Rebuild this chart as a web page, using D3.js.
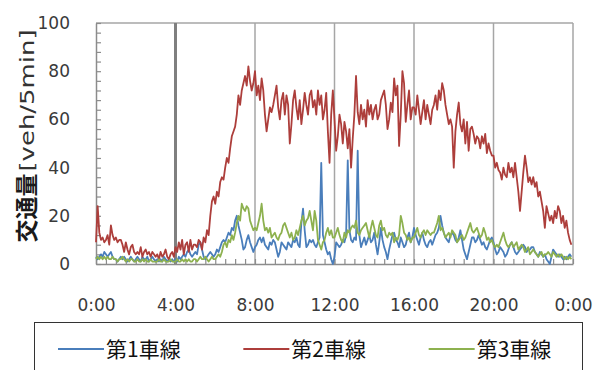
<!DOCTYPE html>
<html>
<head>
<meta charset="utf-8">
<script src="https://cdn.jsdelivr.net/npm/d3@7"></script>
<style>
  body { margin: 0; background: #fff; }
  svg { display: block; }
</style>
</head>
<body>
<div id="chart"></div>
<script>
// traffic volume per 5 min, one row = one hour (12 values)
var lane1 = [
  3,2,3,4,3,5,4,3,4,5,3,2,
  2,1,2,3,2,3,2,1,2,3,2,1,
  2,3,2,1,3,2,2,3,1,2,3,2,
  1,2,1,2,1,3,2,1,2,1,2,1,
  2,1,3,2,3,4,3,5,6,4,3,4,
  5,4,8,9,6,3,2,3,4,5,4,3,
  4,6,5,7,9,10,9,11,13,12,15,14,
  18,20,16,13,10,6,7,10,12,9,7,5,
  7,8,10,11,9,11,8,7,6,9,8,10,
  9,6,3,5,9,8,7,6,9,8,7,10,
  9,11,8,7,17,23,14,7,8,10,9,10,
  8,7,9,11,42,12,9,6,4,5,2,0,
  3,9,8,7,8,10,9,12,43,14,10,9,
  11,10,47,12,7,9,11,8,10,12,9,10,
  13,8,4,9,15,10,7,5,2,6,9,12,
  13,10,9,7,11,9,7,8,11,13,9,11,
  15,12,10,8,11,13,10,8,7,9,10,8,
  10,12,13,15,20,16,13,11,10,9,12,13,
  12,10,9,11,14,10,6,4,2,5,8,11,
  11,9,10,12,10,8,9,7,6,8,10,11,
  9,6,4,5,7,6,5,3,4,6,8,9,
  7,5,4,5,6,7,8,7,5,6,6,7,
  7,5,4,3,5,4,3,4,2,1,0,3,
  6,5,4,3,4,3,2,3,2,3,4,3
];
var lane2 = [
  9,24,13,10,11,9,10,12,8,16,12,10,
  11,9,10,10,8,5,9,6,4,7,8,5,
  4,5,4,7,3,5,6,4,5,3,5,4,
  3,4,2,5,3,4,6,3,2,4,5,3,
  7,5,9,6,10,4,8,9,5,10,6,8,
  8,7,10,9,6,11,9,14,12,20,26,28,
  25,30,28,34,36,35,40,44,42,48,53,55,
  57,62,70,66,72,75,78,74,82,76,72,75,
  80,70,74,68,77,72,62,55,60,65,63,66,
  70,74,65,60,68,71,62,70,66,50,58,68,
  72,65,60,68,58,64,71,66,62,70,72,65,
  68,62,72,66,70,60,64,71,55,42,62,72,
  60,47,53,62,58,50,59,55,48,56,40,52,
  62,78,63,58,66,60,64,57,68,62,66,60,
  64,66,60,62,68,70,72,66,56,60,67,63,
  77,70,74,49,62,80,75,59,66,72,60,65,
  65,62,70,64,58,63,68,60,66,62,58,64,
  66,70,64,72,68,75,72,66,62,58,60,57,
  40,55,62,67,58,55,60,50,59,47,56,57,
  54,50,53,52,48,53,50,54,46,50,47,45,
  45,40,42,39,38,35,40,37,36,42,38,40,
  36,42,36,30,22,30,38,45,40,34,36,33,
  36,32,34,28,30,26,22,15,24,21,18,20,
  17,22,19,24,22,17,20,15,18,13,10,8
];
var lane3 = [
  2,3,2,3,2,3,2,3,2,2,3,2,
  2,1,2,2,3,2,1,2,1,2,2,1,
  1,2,1,1,2,1,2,1,1,2,1,1,
  1,1,2,1,1,2,1,1,1,2,1,1,
  1,2,1,1,2,1,2,1,2,1,1,2,
  2,1,2,3,2,2,3,2,1,2,3,2,
  2,3,4,3,5,8,9,7,10,9,12,10,
  13,17,20,18,25,23,22,24,23,18,16,14,
  15,14,17,20,25,18,14,15,13,15,11,12,
  13,11,10,12,13,16,17,15,13,11,13,10,
  11,14,12,15,18,20,16,18,19,22,18,14,
  22,18,10,8,6,9,10,13,15,12,14,11,
  11,13,15,12,10,9,13,11,14,13,15,16,
  15,18,13,12,14,15,16,17,14,11,15,18,
  15,12,11,16,18,14,15,12,11,13,12,13,
  9,11,10,12,20,17,13,12,10,11,9,11,
  11,13,15,12,11,13,14,12,14,13,12,13,
  13,15,17,20,14,15,13,11,12,13,11,14,
  13,12,9,10,11,12,10,11,13,15,17,14,
  13,14,15,13,11,12,15,13,10,11,9,10,
  8,7,8,7,9,11,13,10,8,7,8,9,
  7,8,9,6,7,8,7,5,6,7,4,5,
  6,5,4,3,4,5,3,4,4,5,4,3,
  5,4,3,4,3,4,3,2,3,2,3,2
];
var laneNames = ["第1車線", "第2車線", "第3車線"];
var laneColors = ["#4a7ebb", "#ad3e3b", "#8db14f"];
var gridHours = [4, 8, 12, 16, 20, 24];
var yTicks = [0, 20, 40, 60, 80, 100];

var W = 603, H = 370;
var margin = {top: 23, right: 30, bottom: 106, left: 96};
var w = W - margin.left - margin.right,
    h = H - margin.top - margin.bottom;

var svg = d3.select("#chart").append("svg")
    .attr("width", W)
    .attr("height", H);

var g = svg.append("g")
    .attr("transform", "translate(" + margin.left + "," + margin.top + ")");

// x in minutes since midnight
var x = d3.scaleLinear().domain([0, 1440]).range([0, w]);
var y = d3.scaleLinear().domain([0, 100]).range([h, 0]);

// top border
g.append("line")
    .attr("x1", 0).attr("x2", w)
    .attr("y1", 0).attr("y2", 0)
    .attr("stroke", "#a6a6a6").attr("stroke-width", 1.5);

// vertical grid lines
g.selectAll(".vgrid")
    .data(gridHours)
  .enter().append("line")
    .attr("class", "vgrid")
    .attr("x1", function(d) { return x(d * 60); })
    .attr("x2", function(d) { return x(d * 60); })
    .attr("y1", 0).attr("y2", h)
    .attr("stroke", function(d) { return d == 4 ? "#7f7f7f" : "#a6a6a6"; })
    .attr("stroke-width", function(d) { return d == 4 ? 3 : 1.5; });

// y axis, ticks every 4 pointing inward
var yAxis = g.append("g")
    .call(d3.axisLeft(y)
      .tickValues(d3.range(0, 101, 4))
      .tickSizeInner(-5).tickSizeOuter(0)
      .tickPadding(26)
      .tickFormat(function(d) { return yTicks.indexOf(d) >= 0 ? d : ""; }));

// x axis, ticks every 30 min
var xAxis = g.append("g")
    .attr("transform", "translate(0," + h + ")")
    .call(d3.axisBottom(x)
      .tickValues(d3.range(0, 1441, 30))
      .tickSizeInner(-5).tickSizeOuter(0)
      .tickPadding(35)
      .tickFormat(function(d) { return d % 240 == 0 ? (d / 60 % 24) + ":00" : ""; }));

[yAxis, xAxis].forEach(function(ax) {
  ax.select(".domain").attr("stroke", "#8c8c8c").attr("stroke-width", 1.5);
  ax.selectAll(".tick line").attr("stroke", "#8c8c8c").attr("stroke-width", 1.2);
  ax.selectAll("text")
    .style("font-family", "'DejaVu Sans', sans-serif")
    .style("font-size", "17px")
    .attr("fill", "#3a3a3a");
});

// series
var line = d3.line()
    .x(function(d, i) { return x(i * 5); })
    .y(function(d) { return y(d); });

var series = [lane1, lane2, lane3];
g.selectAll(".lane")
    .data(series)
  .enter().append("path")
    .attr("class", "lane")
    .attr("d", line)
    .attr("fill", "none")
    .attr("stroke", function(d, i) { return laneColors[i]; })
    .attr("stroke-width", 1.8)
    .attr("stroke-linejoin", "round");

// y title
var yt = svg.append("g")
    .attr("transform", "translate(27," + (margin.top + h / 2) + ") rotate(-90)");
yt.append("text")
    .attr("x", -99).attr("y", 0)
    .attr("dy", "0.36em")
    .attr("text-anchor", "start")
    .style("font-family", "'Noto Sans CJK JP', sans-serif")
    .style("font-size", "23px")
    .style("font-weight", "bold")
    .attr("fill", "#1a1a1a")
    .text("交通量");
yt.append("text")
    .attr("x", -28).attr("y", 0)
    .attr("dy", "0.36em")
    .attr("text-anchor", "start")
    .attr("textLength", 142)
    .attr("lengthAdjust", "spacingAndGlyphs")
    .style("font-family", "'DejaVu Sans', sans-serif")
    .style("font-size", "20px")
    .attr("fill", "#333")
    .text("[veh/5min]");

// legend
var legend = svg.append("g");
legend.append("rect")
    .attr("x", 34.5).attr("y", 322.5)
    .attr("width", 548).attr("height", 60)
    .attr("fill", "#fff")
    .attr("stroke", "#333").attr("stroke-width", 1);

var lx = d3.scaleBand().domain(laneNames).range([58, 614]);
var items = legend.selectAll(".item")
    .data(laneNames)
  .enter().append("g")
    .attr("class", "item")
    .attr("transform", function(d) { return "translate(" + lx(d) + ",349)"; });
items.append("line")
    .attr("x1", 0).attr("x2", 46)
    .attr("stroke", function(d, i) { return laneColors[i]; })
    .attr("stroke-width", 2);
items.append("text")
    .attr("x", 48).attr("dy", "0.36em")
    .style("font-family", "'Noto Sans CJK JP', sans-serif")
    .style("font-size", "21px")
    .attr("fill", "#111")
    .text(function(d) { return d; });
</script>
</body>
</html>
